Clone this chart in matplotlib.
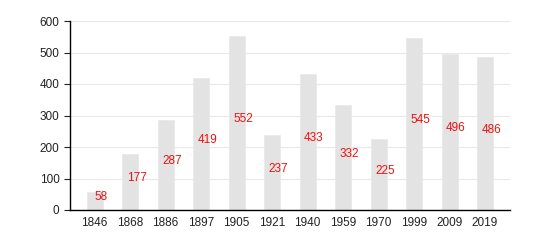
import matplotlib
matplotlib.use("Agg")
import matplotlib.pyplot as plt
import numpy as np

plt.rcParams['font.family'] = ['Liberation Sans', 'DejaVu Sans']

# population by census year
years = ["1846", "1868", "1886", "1897", "1905", "1921",
         "1940", "1959", "1970", "1999", "2009", "2019"]
pop = [58, 177, 287, 419, 552, 237, 433, 332, 225, 545, 496, 486]

fig = plt.figure(figsize=(5.5, 2.5), dpi=100)
ax = fig.add_axes([0.127, 0.16, 0.80, 0.756])

x = np.arange(len(years))
ax.bar(x, pop, width=0.45, color="#e3e3e3", edgecolor="#e8e8e8", linewidth=0.5, zorder=2)

for xi, v in zip(x, pop):
    ax.text(xi + 0.18, v / 2 + 12, str(v), color="#ee1111", fontsize=8.5,
            ha="center", va="center", zorder=3)

ax.set_xlim(-0.7, len(years) - 0.3)
ax.set_ylim(0, 600)
ax.set_yticks(range(0, 601, 100))
ax.set_xticks(x)
ax.set_xticklabels(years)
ax.grid(axis="y", color="#e8e8e8", linewidth=0.8, zorder=0)
ax.set_axisbelow(True)
for s in ["top", "right"]:
    ax.spines[s].set_visible(False)
ax.spines["left"].set_linewidth(1)
ax.spines["bottom"].set_linewidth(1)
ax.tick_params(axis="x", length=0, labelsize=8.5, pad=5, colors="#222222")
ax.tick_params(axis="y", length=4, labelsize=8.5, colors="#222222")

fig.savefig("out.png")
